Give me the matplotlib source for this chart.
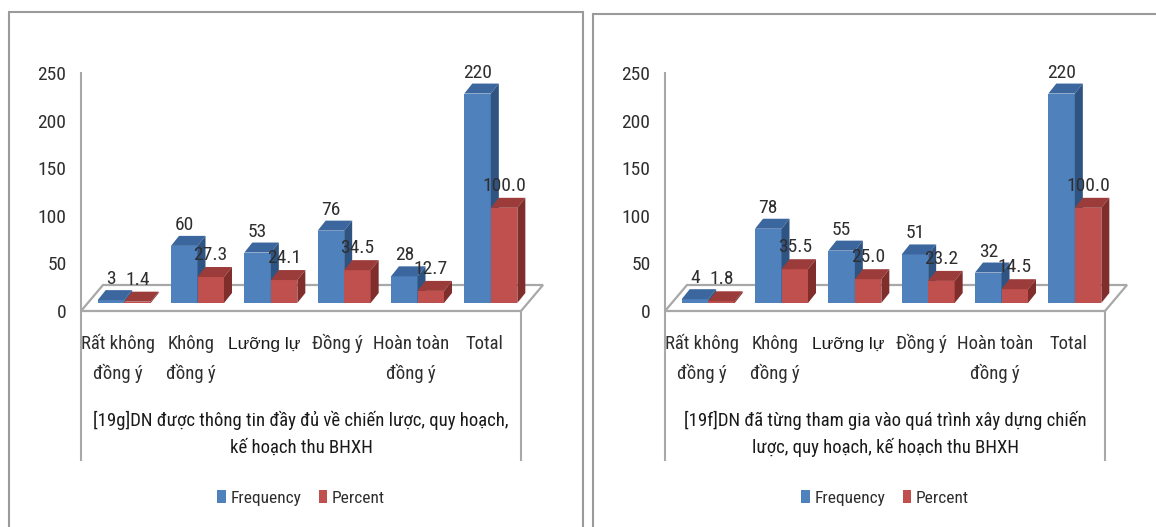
import matplotlib
matplotlib.use("Agg")
import matplotlib.pyplot as plt
from matplotlib.patches import Polygon, Rectangle, Patch
from matplotlib import font_manager

# ---- data -------------------------------------------------------------
categories = ["Rất không\nđồng ý", "Không\nđồng ý", "Lưỡng lự", "Đồng ý",
              "Hoàn toàn\nđồng ý", "Total"]
series_names = ["Frequency", "Percent"]
y_ticks = [0, 50, 100, 150, 200, 250]

freq_19g = [3, 60, 53, 76, 28, 220]
pct_19g = [1.4, 27.3, 24.1, 34.5, 12.7, 100.0]
title_19g = "[19g]DN được thông tin đầy đủ về chiến lược, quy hoạch,\nkế hoạch thu BHXH"

freq_19f = [4, 78, 55, 51, 32, 220]
pct_19f = [1.8, 35.5, 25.0, 23.2, 14.5, 100.0]
title_19f = "[19f]DN đã từng tham gia vào quá trình xây dựng chiến\nlược, quy hoạch, kế hoạch thu BHXH"

# ---- fonts ------------------------------------------------------------
installed = {f.name for f in font_manager.fontManager.ttflist}


def pick(*names):
    for n in names:
        if n in installed:
            return n
    return "Liberation Sans"


NARROW = pick("Roboto Condensed", "Archivo Narrow", "Open Sans Condensed",
              "Liberation Sans Narrow", "Liberation Sans")
PLAIN = pick("Liberation Sans", "Arimo")
NARROW_FAM = [NARROW, PLAIN, "DejaVu Sans"]
plt.rcParams["font.family"] = NARROW_FAM

TEXT = "#2e2e2e"
GRID = "#a8a8a8"
BLUE = ("#4f81bd", "#3b669e", "#2f5482")   # front, top, side
RED = ("#c0504d", "#9c3c3a", "#7f2e2c")

W_PX, H_PX, DPI = 1156, 527, 100
fig = plt.figure(figsize=(W_PX / DPI, H_PX / DPI), dpi=DPI)
fig.patch.set_facecolor("white")

# plot frame geometry (pixels)
AX_X0, AX_W = 81, 440          # front edge of the floor
AX_BASE, AX_H = 311, 238       # y of value 0 (from top) and height of 0..250
N = len(categories)
SX = AX_W / N                  # px per category
SY = AX_H / 250.0              # px per value unit
UX, UY = 1.0 / SX, 1.0 / SY    # data units per px

BAR_W = 26.5 * UX
SHIFT_X, SHIFT_Y = 6.5 * UX, 8 * UY      # bars sit in the middle of the floor depth
DEP_X, DEP_Y = 8 * UX, 10 * UY           # bar depth
FLOOR_X, FLOOR_Y = 22 * UX, 26 * UY      # floor depth


def px_box(x0, y_top, w, h):
    return [x0 / W_PX, (H_PX - y_top - h) / H_PX, w / W_PX, h / H_PX]


def draw_bar(ax, x0, v, cols, z):
    ax.bar(x0, v, width=BAR_W, bottom=SHIFT_Y, align="edge", color=cols[0],
           linewidth=0, zorder=z, clip_on=False)
    x1 = x0 + BAR_W
    top = v + SHIFT_Y
    ax.add_patch(Polygon([(x0, top), (x1, top), (x1 + DEP_X, top + DEP_Y),
                          (x0 + DEP_X, top + DEP_Y)], closed=True,
                         facecolor=cols[1], edgecolor="none", zorder=z, clip_on=False))
    ax.add_patch(Polygon([(x1, SHIFT_Y), (x1 + DEP_X, SHIFT_Y + DEP_Y),
                          (x1 + DEP_X, top + DEP_Y), (x1, top)], closed=True,
                         facecolor=cols[2], edgecolor="none", zorder=z, clip_on=False))


def draw_panel(ox, border_top, freq, pct, title):
    fig.add_artist(Rectangle(((ox + 9) / W_PX, -0.05), 574 / W_PX,
                             (H_PX - border_top) / H_PX + 0.05,
                             transform=fig.transFigure, fill=False,
                             edgecolor="#9a9a9a", linewidth=1.5))

    ax = fig.add_axes(px_box(AX_X0 + ox, AX_BASE - AX_H, AX_W, AX_H))
    ax.set_xlim(-0.5, N - 0.5)
    ax.set_ylim(0, 250)
    ax.patch.set_visible(False)
    for s in ax.spines.values():
        s.set_visible(False)
    ax.set_xticks([])
    ax.set_yticks(y_ticks)
    ax.set_yticklabels([str(t) for t in y_ticks])
    ax.tick_params(axis="y", length=0, pad=10.5, labelsize=14, labelcolor=TEXT)

    # floor
    ax.add_patch(Polygon([(-0.5, 0), (N - 0.5, 0), (N - 0.5 + FLOOR_X, FLOOR_Y),
                          (-0.5 + FLOOR_X, FLOOR_Y)], closed=True,
                         facecolor="white", edgecolor=GRID, linewidth=1.6,
                         zorder=1, clip_on=False))
    # axis lines running down past the category labels
    y_low = -(460 - AX_BASE) * UY
    ax.plot([-0.5, -0.5], [250, y_low], color=GRID, lw=1.5, clip_on=False, zorder=1)
    ax.plot([N - 0.5, N - 0.5], [0, y_low], color=GRID, lw=1.5, clip_on=False, zorder=1)

    for i in range(N):
        cx = i + SHIFT_X
        draw_bar(ax, cx - BAR_W, freq[i], BLUE, 2)
        draw_bar(ax, cx, pct[i], RED, 3)
        ax.annotate(f"{freq[i]}", xy=(cx - BAR_W / 2, freq[i] + SHIFT_Y + DEP_Y),
                    xytext=(0, 6), textcoords="offset pixels", ha="center",
                    va="baseline", fontsize=14, color=TEXT, zorder=5,
                    annotation_clip=False)
        ax.annotate(f"{pct[i]:.1f}", xy=(cx + BAR_W / 2, pct[i] + SHIFT_Y + DEP_Y),
                    xytext=(0, 7), textcoords="offset pixels", ha="center",
                    va="baseline", fontsize=14, color=TEXT, zorder=5,
                    annotation_clip=False)

    # category labels
    for i, lab in enumerate(categories):
        for j, line in enumerate(lab.split("\n")):
            kw = dict(fontsize=13.5, color=TEXT)
            if lab == "Lưỡng lự":
                kw = dict(fontsize=12.5, color="#1a1a1a", family=[PLAIN, "DejaVu Sans"])
            ax.annotate(line, xy=(i, 0), xytext=(0, -(38 + 30 * j)),
                        textcoords="offset pixels", ha="center", va="baseline",
                        annotation_clip=False, **kw)

    # axis title
    for j, line in enumerate(title.split("\n")):
        ax.annotate(line, xy=(0.5, 0), xycoords="axes fraction",
                    xytext=(0, -(115 + 27 * j)), textcoords="offset pixels",
                    ha="center", va="baseline", fontsize=13.5, color="#1a1a1a",
                    annotation_clip=False)

    handles = [Patch(facecolor=BLUE[0]), Patch(facecolor=RED[0])]
    ax.legend(handles, series_names, loc="center",
              bbox_to_anchor=(0.5, -(498 - AX_BASE) / AX_H), ncol=2,
              frameon=False, handlelength=0.5, handleheight=0.7,
              handletextpad=0.25, columnspacing=1.0,
              prop={"size": 12.5}, labelcolor=TEXT)


draw_panel(0, 12, freq_19g, pct_19g, title_19g)
draw_panel(584, 14, freq_19f, pct_19f, title_19f)

fig.savefig("out.png", dpi=DPI, facecolor="white")
